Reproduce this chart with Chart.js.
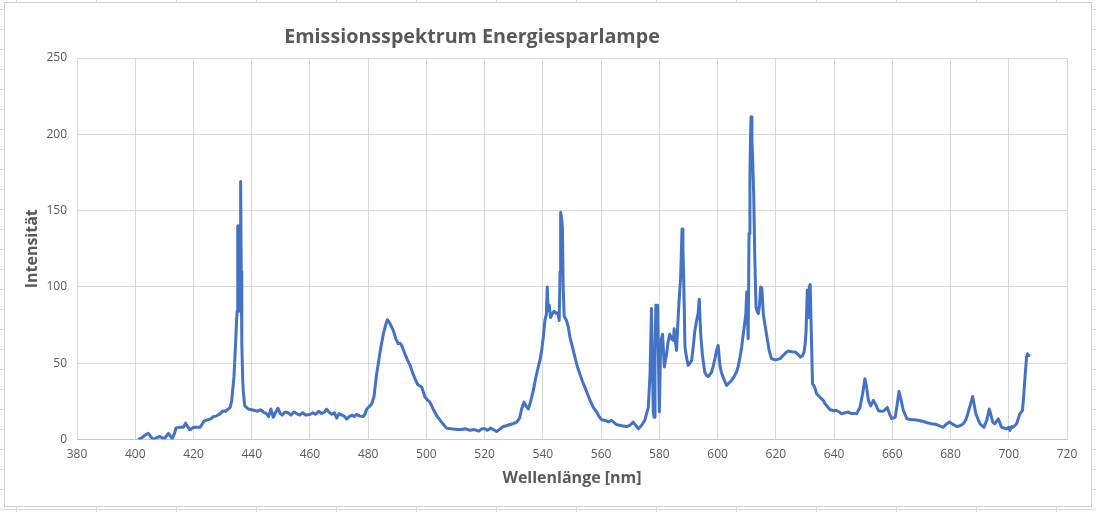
<!DOCTYPE html>
<html>
<head>
<meta charset="utf-8">
<script src="https://cdn.jsdelivr.net/npm/chart.js@4.4.1/dist/chart.umd.min.js"></script>
<style>
  html, body { margin: 0; padding: 0; }
  body {
    width: 1096px; height: 512px; overflow: hidden; position: relative;
    background-color: #fff;
    background-image: linear-gradient(to right, #dadada 1px, transparent 1px),
                      linear-gradient(to bottom, #dadada 1px, transparent 1px);
    background-size: 80px 20px;
    background-position: 16px 9px;
  }
  #frame {
    position: absolute; left: 4px; top: 2px; width: 1086px; height: 503px;
    background: #fff; border: 1px solid #d0d0d0;
  }
  #myChart { position: absolute; left: 0; top: 0; }
</style>
</head>
<body>
<div id="frame"></div>
<canvas id="myChart" width="1096" height="512"></canvas>
<script>
const chartTitle = "Emissionsspektrum Energiesparlampe";
const xTitle = "Wellenlänge [nm]";
const yTitle = "Intensität";

// wavelength (nm)
const wavelengths = [
    401.0, 401.6, 402.5, 403.5, 404.5, 405.3, 406.2, 407.3, 408.5, 409.4, 410.2, 411.4, 412.7, 413.5, 414.0,
    415.2, 416.5, 417.3, 418.0, 418.8, 419.6, 420.5, 421.3, 422.2, 423.0, 423.6, 425.1, 426.0, 426.8, 428.0,
    429.1, 430.0, 431.0, 432.0, 432.6, 433.1, 433.9, 434.4, 434.8, 435.0, 435.2, 435.4, 435.6, 435.8, 436.0,
    436.2, 436.4, 436.6, 436.9, 437.1, 437.6, 438.8, 440.0, 441.0, 442.0, 443.0, 444.0, 445.0, 445.8, 446.6,
    447.4, 448.3, 449.0, 449.8, 450.5, 451.5, 452.5, 453.5, 454.5, 455.4, 456.5, 457.5, 458.5, 460.0, 461.0,
    462.0, 463.0, 464.0, 465.0, 465.7, 466.5, 467.5, 468.4, 469.2, 470.0, 471.0, 472.0, 472.6, 473.5, 474.5,
    475.2, 476.0, 477.0, 478.3, 479.0, 479.5, 480.6, 481.2, 482.0, 482.9, 483.5, 483.8, 484.5, 485.2, 486.0,
    486.6, 487.5, 488.6, 489.5, 490.3, 491.0, 491.5, 492.6, 493.5, 494.4, 495.2, 496.1, 497.0, 498.4, 499.5,
    500.3, 501.2, 502.3, 503.5, 505.2, 506.2, 507.0, 508.5, 510.4, 512.0, 513.5, 515.0, 516.5, 518.0, 519.0,
    520.1, 521.0, 522.0, 523.0, 524.1, 525.0, 526.4, 527.5, 529.0, 530.0, 531.0, 532.0, 532.7, 533.5, 534.2,
    535.0, 535.8, 536.7, 537.5, 538.4, 539.0, 539.6, 540.2, 540.7, 541.2, 541.5, 541.8, 542.2, 542.6, 543.0,
    543.8, 544.7, 545.2, 545.6, 545.9, 546.1, 546.4, 546.7, 547.0, 547.3, 548.1, 548.7, 549.3, 550.1, 551.0,
    551.8, 552.7, 553.6, 554.5, 555.3, 556.2, 557.3, 558.5, 559.3, 560.2, 561.5, 562.5, 563.6, 565.3, 567.0,
    568.8, 570.0, 571.0, 572.0, 572.8, 573.8, 575.0, 576.2, 576.8, 577.3, 577.6, 577.9, 578.2, 578.5, 578.8,
    579.1, 579.4, 579.7, 580.0, 580.4, 580.7, 581.1, 581.7, 582.1, 582.5, 583.0, 583.6, 584.2, 584.8, 585.1,
    585.5, 585.9, 586.4, 586.9, 587.3, 587.8, 588.1, 588.3, 588.8, 589.3, 589.9, 590.5, 591.1, 591.7, 592.2,
    592.8, 593.3, 593.7, 594.2, 594.8, 595.6, 596.2, 596.8, 597.9, 598.5, 599.1, 599.6, 600.2, 600.8, 601.3,
    601.9, 602.5, 603.1, 603.9, 604.8, 605.6, 606.5, 607.1, 607.7, 608.3, 608.8, 609.3, 609.7, 610.0, 610.5,
    610.8, 611.1, 611.3, 611.5, 611.8, 612.1, 612.4, 612.8, 613.2, 613.6, 614.0, 614.4, 614.8, 615.2, 615.7,
    616.2, 616.8, 617.7, 618.5, 619.5, 620.3, 621.5, 622.5, 623.5, 624.3, 625.5, 626.6, 627.5, 628.5, 629.2,
    629.7, 630.1, 630.4, 630.8, 631.2, 631.5, 631.8, 632.2, 632.6, 633.4, 634.0, 635.1, 636.3, 636.9, 637.8,
    638.6, 639.8, 640.9, 641.8, 642.6, 643.8, 644.9, 646.0, 647.0, 647.7, 648.9, 649.8, 650.6, 651.2, 651.8,
    652.6, 653.5, 654.3, 655.2, 656.0, 657.0, 658.3, 659.0, 659.8, 661.0, 661.6, 662.3, 663.0, 663.8, 665.0,
    666.5, 667.8, 669.2, 670.7, 672.0, 673.5, 674.8, 675.8, 677.5, 678.5, 679.6, 680.8, 682.1, 683.3, 684.4,
    685.3, 686.1, 687.0, 687.6, 688.2, 688.7, 690.1, 691.5, 692.5, 693.3, 694.0, 694.5, 695.2, 696.4, 697.5,
    699.2, 700.0, 700.4, 701.0, 701.5, 702.7, 703.8, 704.7, 705.1, 705.5, 706.1, 706.4, 706.7, 706.9
];

// intensity
const intensities = [
    0, 0.5, 1.5, 3, 4, 2, 0, 1, 2, 1, 1, 4, 0.5, 4, 7.5,
    8, 8, 10.7, 8.5, 6.3, 7.5, 8, 8, 8, 10, 12, 13, 13.5, 15, 15.5,
    16.8, 18.6, 18.5, 20.1, 21, 25, 41, 60, 78, 84, 140, 84, 100, 140, 90,
    169, 110, 63, 40, 32, 22, 20, 19.5, 19, 18.5, 19.5, 18, 17, 15, 20,
    14.5, 18, 20.5, 17, 16, 18, 17.5, 16, 18, 17, 16, 17.5, 16, 16.4, 17.5,
    16.5, 18.5, 17, 18, 19.9, 18, 16.5, 17.5, 14, 17, 16, 15, 13.4, 15, 16,
    15, 16.4, 15.5, 15, 17, 20, 22, 23.4, 28, 43, 50, 54, 62, 69, 75,
    78.5, 76, 71.5, 66, 62.8, 63, 61.7, 56.2, 52, 48.6, 44, 39.8, 36, 34.3, 27.8,
    26, 24.5, 20, 15.7, 11.4, 9, 7.4, 7, 6.6, 6.5, 7, 6, 6.5, 5.5, 7,
    7, 6, 7.5, 6.5, 5.2, 6.5, 8.5, 9, 10, 10.5, 11.4, 14, 20, 24.5, 22,
    20, 25, 32, 40, 47.5, 52, 58.4, 68, 78, 82, 100, 84.6, 88, 80, 81.4,
    84, 82.5, 83, 78, 110, 149, 145, 139, 97.8, 80.9, 78, 74, 67, 61, 54,
    48, 43, 38, 34, 30, 25.6, 21, 18, 15, 13, 12.5, 11.5, 12.5, 9.8, 9,
    8.5, 9.5, 11.4, 9, 7, 9, 12.5, 21, 43, 85.8, 50, 19, 14.6, 54, 88,
    87.9, 88, 50, 18, 58.4, 66, 69, 47.5, 52, 56.2, 64, 69, 66, 65, 72.6,
    64, 58.4, 78, 95, 106, 138, 125, 111, 60.6, 54, 48.6, 50, 51.8, 62, 71.5,
    78, 82.5, 91.9, 69, 55, 44, 42, 41.3, 44, 48, 53, 58, 61.7, 48.6, 44,
    40.9, 38, 35.4, 37, 38.7, 41, 44.2, 48, 54, 61, 69, 76, 82.5, 96.7, 66,
    135, 170, 198, 211.5, 196, 180, 161, 117, 86.8, 84, 82.5, 88, 100, 99, 82.5,
    76, 69, 58.4, 53, 52.3, 52.3, 53, 55, 57, 58, 57.5, 57.3, 56, 54, 55,
    57.3, 63, 71.5, 97.8, 80, 100, 101.5, 69, 36.5, 34, 30, 27.8, 25.6, 23.4, 21.5,
    19.5, 19, 19, 18, 16.8, 17.5, 18, 17, 17, 16.8, 21, 30, 39.8, 34, 25.6,
    22, 25.6, 23, 19, 18.5, 18.6, 21, 17, 13.6, 14.6, 22, 31.5, 26, 19, 13.6,
    13, 13, 12.5, 11.8, 11, 10.3, 10, 9.2, 8, 10, 11.4, 10, 8.5, 9, 10.3,
    13, 18, 24, 28.2, 22, 16.8, 10.3, 8, 13, 20, 15, 11.4, 10.3, 13.6, 8,
    7, 8, 5.9, 8.5, 8, 10.3, 16.8, 19, 28, 38.7, 54, 56.2, 55, 56
];

const xTicks = { min: 380, max: 720, step: 20 };
const yTicks = { min: 0, max: 250, step: 50 };

const gridColor = '#d9d9d9';
const textColor = '#595959';
const lineColor = '#4472C4';

const points = wavelengths.map((wl, i) => ({ x: wl, y: intensities[i] }));

// Excel places the chart title by hand, not centred on the plot
const titlePlugin = {
    id: 'excelTitle',
    afterDraw(chart) {
        const ctx = chart.ctx;
        ctx.save();
        ctx.font = 'bold 19.7px "Open Sans"';
        ctx.fillStyle = textColor;
        ctx.textAlign = 'center';
        ctx.textBaseline = 'alphabetic';
        ctx.fillText(chartTitle, 472, 43);
        ctx.restore();
    }
};

const ctx = document.getElementById('myChart').getContext('2d');
new Chart(ctx, {
    type: 'line',
    data: {
        datasets: [{
            data: points,
            borderColor: lineColor,
            backgroundColor: lineColor,
            borderWidth: 3,
            borderJoinStyle: 'round',
            pointRadius: 0,
            tension: 0,
            fill: false
        }]
    },
    options: {
        responsive: false,
        animation: false,
        layout: { padding: { left: 18, right: 29, top: 58, bottom: 20 } },
        plugins: {
            legend: { display: false },
            tooltip: { enabled: false }
        },
        scales: {
            x: {
                type: 'linear',
                min: xTicks.min,
                max: xTicks.max,
                ticks: {
                    stepSize: xTicks.step,
                    color: textColor,
                    font: { family: '"Open Sans"', size: 12 },
                    padding: 8,
                    maxRotation: 0
                },
                grid: { color: gridColor, drawTicks: false },
                border: { color: '#c8c8c8' },
                title: {
                    display: true,
                    text: xTitle,
                    color: textColor,
                    font: { family: '"Open Sans"', size: 16, weight: 'bold' },
                    padding: { top: 0, bottom: 4 }
                },
                afterFit(scale) { scale.height = 52.5; }
            },
            y: {
                min: yTicks.min,
                max: yTicks.max,
                ticks: {
                    stepSize: yTicks.step,
                    color: textColor,
                    font: { family: '"Open Sans"', size: 12 },
                    padding: 10
                },
                grid: { color: gridColor, drawTicks: false },
                border: { display: false },
                title: {
                    display: true,
                    text: yTitle,
                    color: textColor,
                    font: { family: '"Open Sans"', size: 16, weight: 'bold' },
                    padding: { top: 5, bottom: 0 }
                },
                afterFit(scale) { scale.width = 59; }
            }
        }
    },
    plugins: [titlePlugin]
});
</script>
</body>
</html>
